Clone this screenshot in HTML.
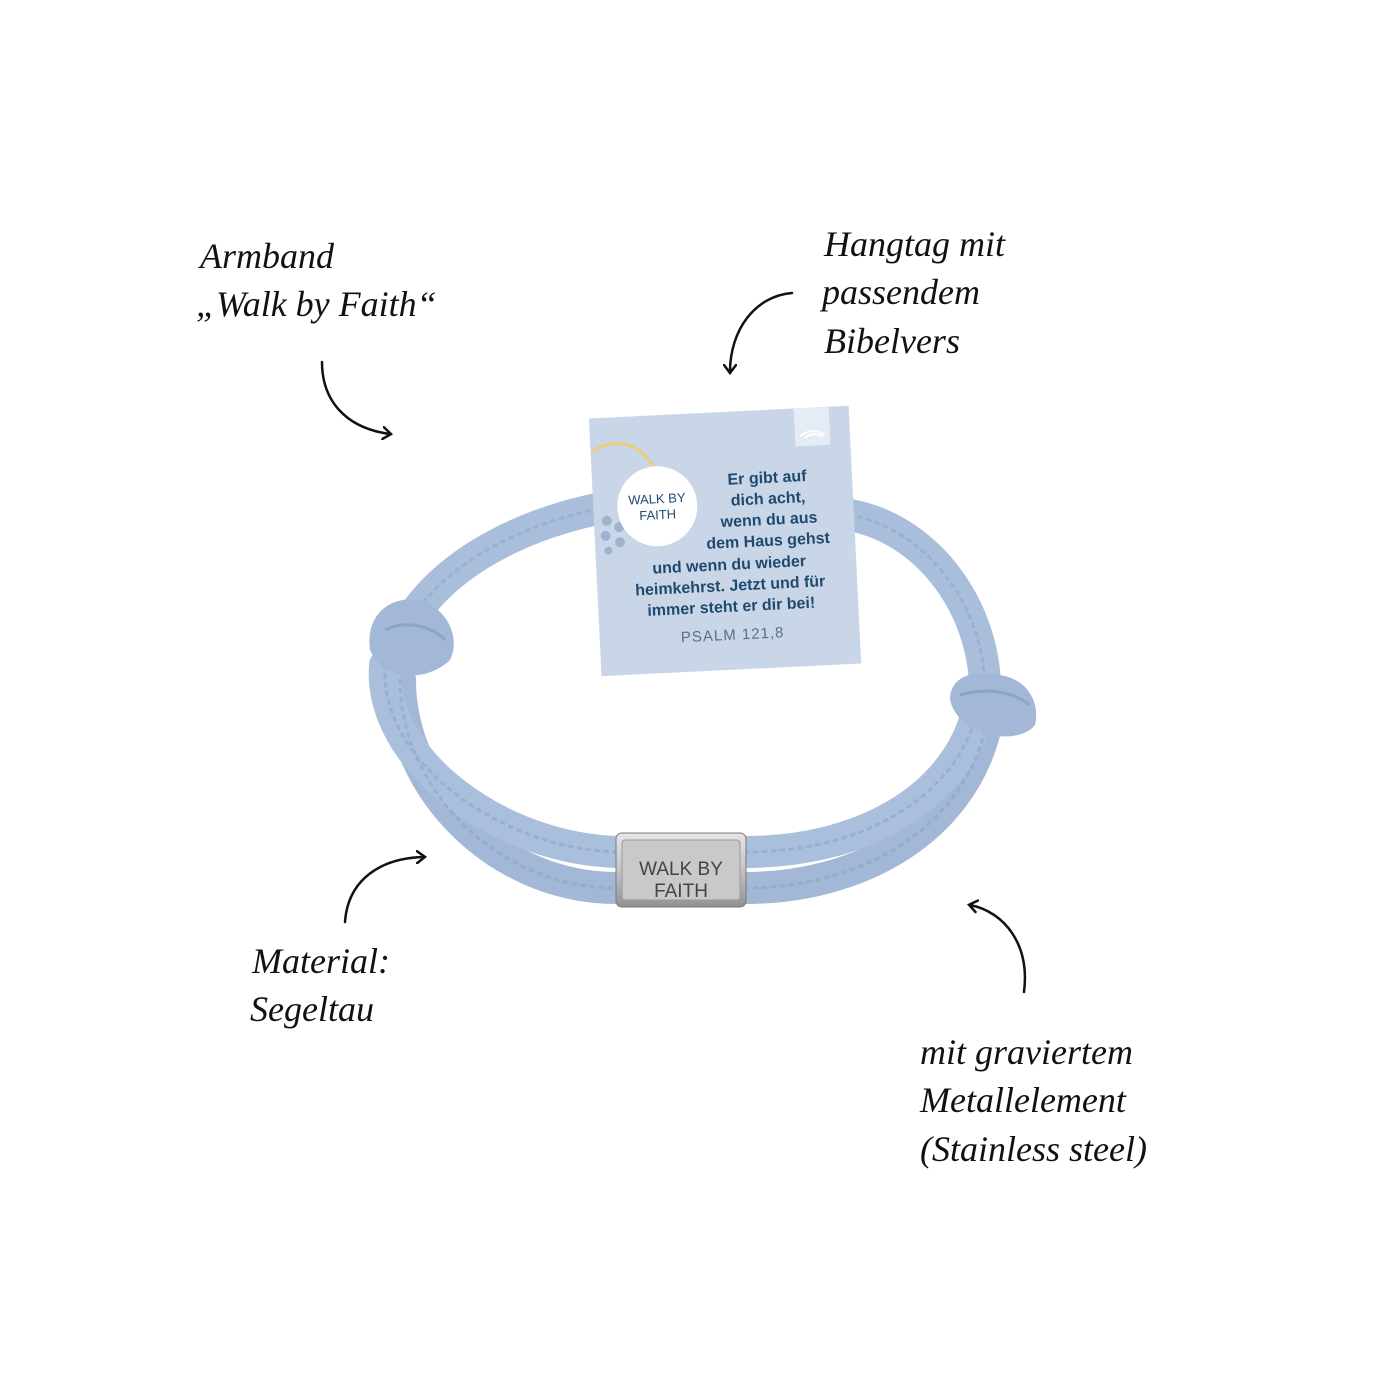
<!DOCTYPE html>
<html><head><meta charset="utf-8"><style>
html,body{margin:0;padding:0;background:#fff;width:1400px;height:1400px;overflow:hidden}
.l{font-family:"Liberation Serif",serif;font-style:italic;fill:#111;font-size:36px}
.t{font-family:"Liberation Sans",sans-serif;font-weight:bold;fill:#1f4a70;font-size:16px}
</style></head><body>
<svg width="1400" height="1400" viewBox="0 0 1400 1400">
<defs>
<marker id="ah" markerWidth="14" markerHeight="14" refX="8" refY="7" orient="auto" markerUnits="userSpaceOnUse">
<path d="M1,1 L9,7 L1,13" fill="none" stroke="#111" stroke-width="2.5" stroke-linecap="round"/>
</marker>
<linearGradient id="met" x1="0" y1="0" x2="0" y2="1">
<stop offset="0" stop-color="#e6e6e6"/><stop offset="0.5" stop-color="#c4c4c4"/><stop offset="1" stop-color="#929292"/>
</linearGradient>
</defs>
<!-- labels -->
<text class="l" x="200" y="268">Armband</text>
<text class="l" x="196" y="316">„Walk by Faith“</text>
<text class="l" x="824" y="256">Hangtag mit</text>
<text class="l" x="822" y="304">passendem</text>
<text class="l" x="824" y="353">Bibelvers</text>
<text class="l" x="252" y="973">Material:</text>
<text class="l" x="250" y="1021">Segeltau</text>
<text class="l" x="920" y="1064">mit graviertem</text>
<text class="l" x="920" y="1112">Metallelement</text>
<text class="l" x="920" y="1161">(Stainless steel)</text>
<!-- arrows -->
<g fill="none" stroke="#111" stroke-width="2.5" stroke-linecap="round" marker-end="url(#ah)">
<path d="M322,362 C322,400 345,428 390,434"/>
<path d="M792,293 C755,296 730,330 730,372"/>
<path d="M345,922 C348,880 380,858 424,857"/>
<path d="M1024,992 C1030,945 1005,912 970,905"/>
</g>
<!-- bracelet -->
<g fill="none" stroke-linecap="round">
<path d="M400,640 C430,570 520,520 620,505" stroke="#a9bedb" stroke-width="32"/>
<path d="M850,515 C930,530 985,610 985,690" stroke="#a9bedb" stroke-width="32"/>
<path d="M400,680 C400,790 500,890 620,888" stroke="#a3b8d6" stroke-width="32"/>
<path d="M385,665 C378,760 500,850 620,852" stroke="#aabfdc" stroke-width="32"/>
<path d="M745,888 C860,888 960,830 985,730" stroke="#a3b8d6" stroke-width="32"/>
<path d="M745,852 C860,852 950,800 975,720" stroke="#aabfdc" stroke-width="32"/>
<g stroke="#8aa1c1" stroke-width="3" stroke-dasharray="3 6" opacity="0.5">
<path d="M400,640 C430,570 520,520 620,505"/>
<path d="M850,515 C930,530 985,610 985,690"/>
<path d="M400,680 C400,790 500,890 620,888"/>
<path d="M385,665 C378,760 500,850 620,852"/>
<path d="M745,888 C860,888 960,830 985,730"/>
<path d="M745,852 C860,852 950,800 975,720"/>
</g>
</g>
<path d="M370,650 C365,615 390,595 420,600 C450,610 460,640 450,660 C430,680 385,685 370,650Z" fill="#a3b8d6"/>
<path d="M950,700 C950,675 975,670 1000,675 C1030,680 1040,705 1035,725 C1020,745 960,740 950,700Z" fill="#a3b8d6"/>
<path d="M385,630 C405,620 430,625 445,640 M960,695 C985,688 1010,690 1030,705" stroke="#8ea5c4" stroke-width="3" fill="none"/>
<!-- metal -->
<rect x="616" y="833" width="130" height="74" rx="6" fill="url(#met)" stroke="#7a7a7a"/>
<rect x="622" y="840" width="118" height="60" rx="3" fill="#c9c9c9" stroke="#9a9a9a"/>
<text x="681" y="875" text-anchor="middle" font-family="Liberation Sans,sans-serif" font-size="19" fill="#444">WALK BY</text>
<text x="681" y="897" text-anchor="middle" font-family="Liberation Sans,sans-serif" font-size="19" fill="#444">FAITH</text>
<!-- tag -->
<g transform="rotate(-2.8 725 540)">
<rect x="595" y="412" width="260" height="258" fill="#c9d6e8"/>
<rect x="800" y="412" width="35" height="38" fill="#e5ecf5"/>
<path d="M805,440 A20,20 0 0 1 830,440 M810,442 A14,14 0 0 1 828,442" fill="none" stroke="#fff" stroke-width="2"/>
<path d="M597,445 C620,430 650,440 660,470" fill="none" stroke="#e8cf7a" stroke-width="3"/>
<g fill="#9fb2cf"><circle cx="608" cy="515" r="5"/><circle cx="620" cy="522" r="5"/><circle cx="606" cy="530" r="5"/><circle cx="620" cy="537" r="5"/><circle cx="608" cy="545" r="4"/></g>
<circle cx="659" cy="503" r="40" fill="#fff"/>
<text x="659" y="500" text-anchor="middle" font-family="Liberation Sans,sans-serif" font-size="13" fill="#1f4a70">WALK BY</text>
<text x="659" y="516" text-anchor="middle" font-family="Liberation Sans,sans-serif" font-size="13" fill="#1f4a70">FAITH</text>
<text class="t" x="770" y="485" text-anchor="middle">Er gibt auf</text>
<text class="t" x="770" y="506" text-anchor="middle">dich acht,</text>
<text class="t" x="770" y="527" text-anchor="middle">wenn du aus</text>
<text class="t" x="768" y="548" text-anchor="middle">dem Haus gehst</text>
<text class="t" x="728" y="570" text-anchor="middle">und wenn du wieder</text>
<text class="t" x="728" y="591" text-anchor="middle">heimkehrst. Jetzt und für</text>
<text class="t" x="728" y="612" text-anchor="middle">immer steht er dir bei!</text>
<text x="728" y="640" text-anchor="middle" font-family="Liberation Sans,sans-serif" font-size="15" fill="#5c6f86" letter-spacing="1">PSALM 121,8</text>
</g>
</svg>
</body></html>
